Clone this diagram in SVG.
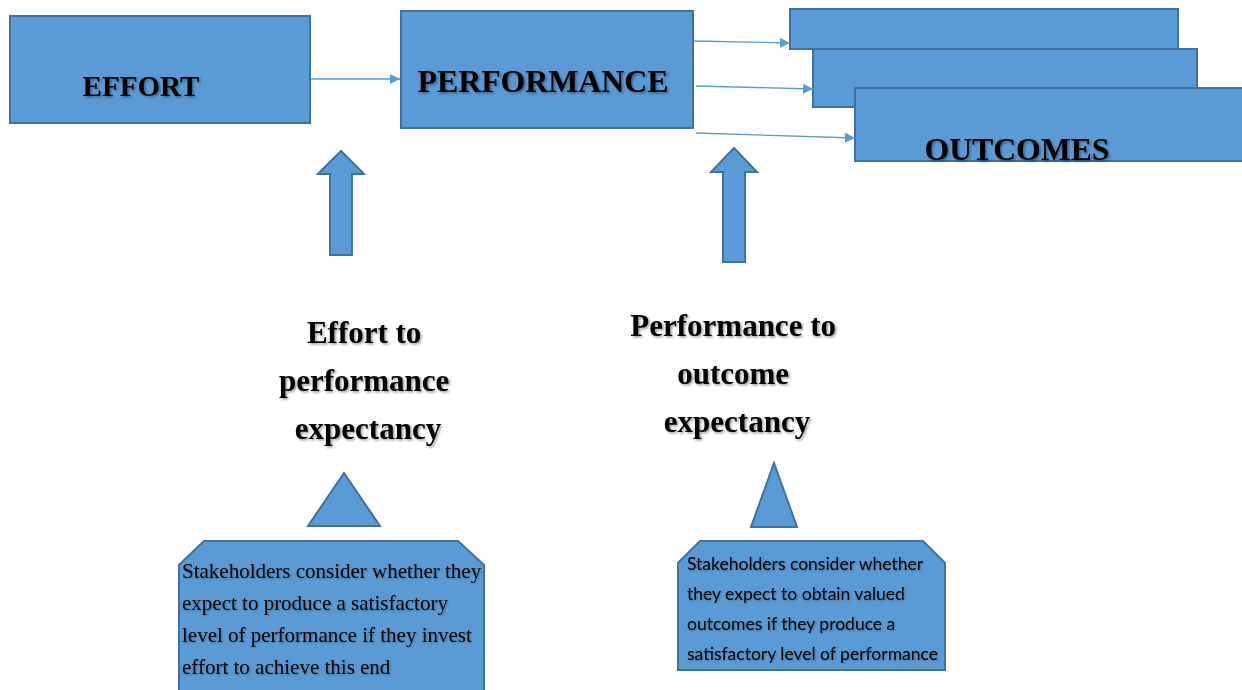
<svg xmlns="http://www.w3.org/2000/svg" width="1242" height="690" viewBox="0 0 1242 690">
<defs>
<style>
.box{fill:#5B9BD5;stroke:#41719C;stroke-width:2}
.ln{stroke:#5B9BD5;stroke-width:1.3;fill:none}
.hd{font-family:"Liberation Serif","Times New Roman",serif;font-weight:bold;fill:#000}
.sh{filter:url(#shadow)}
.sh2{filter:url(#shadow2)}
.serif{font-family:"Liberation Serif","Times New Roman",serif;fill:#000}
.sans{font-family:Lato,"Liberation Sans",sans-serif;fill:#000}
</style>
<filter id="shadow" x="-10%" y="-20%" width="130%" height="150%">
<feDropShadow dx="1.5" dy="1.5" stdDeviation="1" flood-color="#000" flood-opacity="0.4"/>
</filter>
<filter id="shadow2" x="-10%" y="-20%" width="130%" height="150%">
<feDropShadow dx="1" dy="1" stdDeviation="0.8" flood-color="#000" flood-opacity="0.3"/>
</filter>
<marker id="ah2" viewBox="0 0 10 10" refX="10" refY="5" markerWidth="10" markerHeight="10" markerUnits="userSpaceOnUse" orient="auto">
<path d="M0,0 L10,5 L0,10 z" fill="#5B9BD5"/>
</marker>
</defs>
<rect width="1242" height="690" fill="#fff"/>

<g id="effort">
<rect class="box" x="10" y="16" width="300" height="107"/>
<text class="hd sh" x="141" y="96" font-size="29" text-anchor="middle" textLength="117" lengthAdjust="spacingAndGlyphs">EFFORT</text>
</g>

<g id="performance">
<rect class="box" x="401" y="11" width="292" height="117"/>
<text class="hd sh" x="543" y="92" font-size="31" text-anchor="middle" textLength="251" lengthAdjust="spacingAndGlyphs">PERFORMANCE</text>
</g>

<g id="outcomes">
<rect class="box" x="790" y="9" width="388" height="40"/>
<rect class="box" x="813" y="49" width="384" height="58"/>
<rect class="box" x="855" y="88" width="392" height="73"/>
<text class="hd sh" x="1017" y="160" font-size="31" text-anchor="middle" textLength="185" lengthAdjust="spacingAndGlyphs">OUTCOMES</text>
</g>

<g id="connectors">
<line class="ln" x1="311" y1="79" x2="400" y2="79" marker-end="url(#ah2)"/>
<line class="ln" x1="694" y1="41" x2="790" y2="43" marker-end="url(#ah2)"/>
<line class="ln" x1="696" y1="86" x2="813" y2="89" marker-end="url(#ah2)"/>
<line class="ln" x1="696" y1="133" x2="855" y2="138" marker-end="url(#ah2)"/>
</g>

<g id="arrow-left">
<path class="box" d="M330,255 L330,174 L318,174 L341,151 L364,174 L352,174 L352,255 Z"/>
</g>
<g id="arrow-right">
<path class="box" d="M723,262 L723,172 L711,172 L734,148 L757,172 L745,172 L745,262 Z"/>
</g>

<g id="label-effort-performance">
<text class="hd sh" font-size="31" text-anchor="middle">
<tspan x="368" y="343">Effort to</tspan>
<tspan x="368" y="391">performance</tspan>
<tspan x="368" y="439">expectancy</tspan>
</text>
</g>

<g id="label-performance-outcome">
<text class="hd sh" font-size="31" text-anchor="middle">
<tspan x="737" y="336">Performance to</tspan>
<tspan x="737" y="384">outcome</tspan>
<tspan x="737" y="432">expectancy</tspan>
</text>
</g>

<g id="triangle-left">
<path class="box" d="M344,473 L380,526 L308,526 Z"/>
</g>
<g id="triangle-right">
<path class="box" d="M774,463 L797,527 L751,527 Z"/>
</g>

<g id="callout-left">
<path class="box" d="M204,541 L458,541 L484,565 L484,700 L179,700 L179,565 Z"/>
<text class="serif sh2" font-size="21">
<tspan x="182" y="578">Stakeholders consider whether they</tspan>
<tspan x="182" y="610">expect to produce a satisfactory</tspan>
<tspan x="182" y="642">level of performance if they invest</tspan>
<tspan x="182" y="674">effort to achieve this end</tspan>
</text>
</g>

<g id="callout-right">
<path class="box" d="M700,541 L923,541 L945,563 L945,670 L678,670 L678,563 Z"/>
<text class="sans sh2" font-size="17.5">
<tspan x="687" y="570">Stakeholders consider whether</tspan>
<tspan x="687" y="600">they expect to obtain valued</tspan>
<tspan x="687" y="630">outcomes if they produce a</tspan>
<tspan x="687" y="660">satisfactory level of performance</tspan>
</text>
</g>
</svg>
